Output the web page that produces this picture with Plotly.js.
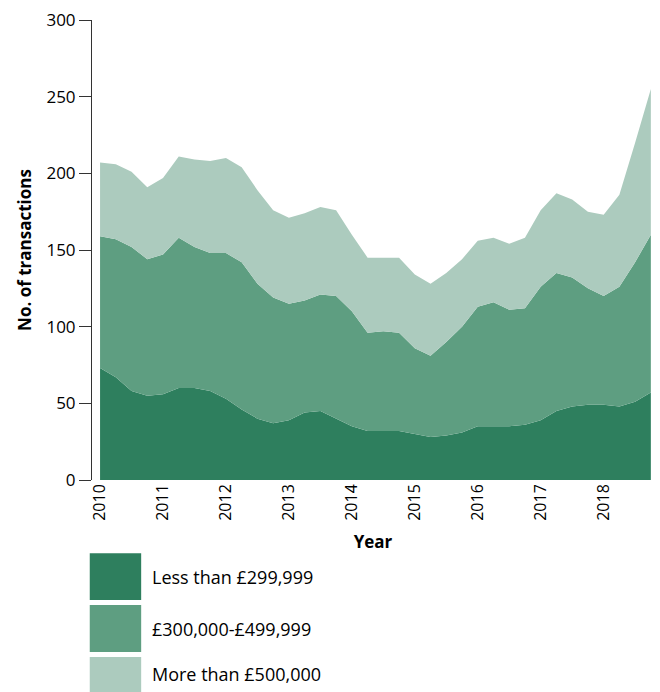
<!DOCTYPE html>
<html>
<head>
<script src="https://cdn.plot.ly/plotly-3.0.1.min.js"></script>
<style>body{margin:0;} #plotdiv{width:660px;height:692px;}</style>
</head>
<body>
<div id="plotdiv"></div>
<script>
// quarterly, 2010 Q1 .. 2018 Q4
var quarters = [];
for (var y = 2010; y <= 2018; y++) {
    for (var q = 0; q < 4; q++) quarters.push(y + q * 0.25);
}

var totalTop = [207,206,201,191,197,211,209,208,210,204,189,176,171,174,178,176,160,145,145,145,134,128,135,144,156,158,154,158,176,187,183,175,173,186,220,255];
var upTo500k = [159,157,152,144,147,158,152,148,148,142,128,119,115,117,121,120,110,96,97,96,86,81,90,100,113,116,111,112,126,135,132,125,120,126,142,160];
var lessThan300k = [73,67,58,55,56,60,60,58,53,46,40,37,39,44,45,40,35,32,32,32,30,28,29,31,35,35,35,36,39,45,48,49,49,48,51,57];

var names = ['Less than £299,999', '£300,000-£499,999', 'More than £500,000'];
var colours = ['#2e7f5e', '#5e9e81', '#accbbe'];

var mid = upTo500k.map(function (v, i) { return v - lessThan300k[i]; });
var high = totalTop.map(function (v, i) { return v - upTo500k[i]; });
var series = [lessThan300k, mid, high];

var data = [];
for (var i = 0; i < 3; i++) {
    data.push({
        x: quarters,
        y: series[i],
        name: names[i],
        type: 'scatter',
        mode: 'lines',
        stackgroup: 'one',
        line: {width: 0},
        fillcolor: colours[i],
        hoverinfo: 'x+y'
    });
}

var font = {family: 'Open Sans, sans-serif', size: 16, color: '#000'};
var shapes = [];
var annotations = [];
var boxes = [[-0.159, -0.261], [-0.272, -0.374], [-0.385, -0.47]];
for (var i = 0; i < 3; i++) {
    shapes.push({
        type: 'rect', xref: 'paper', yref: 'paper',
        x0: -0.004, x1: 0.0875, y0: boxes[i][1], y1: boxes[i][0],
        fillcolor: colours[i], line: {width: 0}
    });
    annotations.push({
        xref: 'paper', yref: 'paper', x: 0.103, y: (boxes[i][0] + boxes[i][1]) / 2 + (i == 2 ? 0.005 : 0),
        xanchor: 'left', yanchor: 'middle', showarrow: false,
        text: names[i], font: {family: 'Open Sans, sans-serif', size: 18, color: '#000'}
    });
}

var layout = {
    width: 660, height: 692,
    margin: {l: 92, r: 6, t: 20, b: 212},
    showlegend: false,
    paper_bgcolor: '#fff', plot_bgcolor: '#fff',
    font: font,
    xaxis: {
        range: [2009.872, 2018.8],
        tickvals: [2010,2011,2012,2013,2014,2015,2016,2017,2018],
        tickangle: -90,
        showgrid: false, zeroline: false, showline: false,
        ticks: '', ticklen: 0,
        tickfont: {family: 'Open Sans, sans-serif', size: 16, color: '#000'},
        title: {text: '<b>Year</b>', standoff: 16, font: {family: 'Open Sans, sans-serif', size: 17}}
    },
    yaxis: {
        range: [0, 300],
        dtick: 50,
        showgrid: false, zeroline: false,
        showline: true, linecolor: '#333', linewidth: 1,
        ticks: 'outside', ticklen: 12, tickcolor: '#333',
        tickfont: {family: 'Open Sans, sans-serif', size: 17, color: '#000'},
        title: {text: '<b>No. of transactions</b>', standoff: 10, font: {family: 'Open Sans, sans-serif', size: 17}}
    },
    shapes: shapes,
    annotations: annotations
};

Plotly.newPlot('plotdiv', data, layout, {displayModeBar: false});
</script>
</body>
</html>
